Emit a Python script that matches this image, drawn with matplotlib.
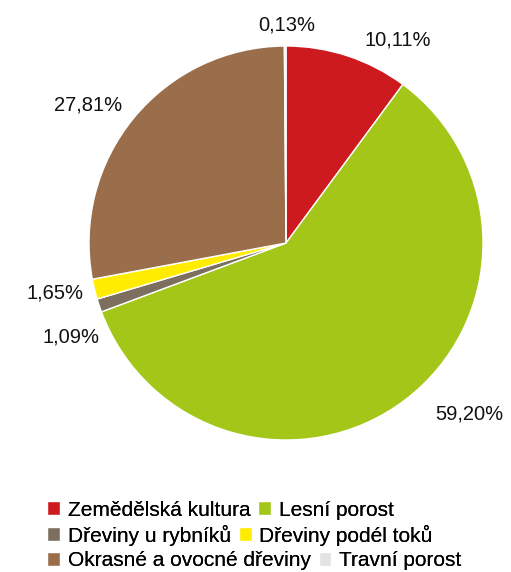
import matplotlib.pyplot as plt

plt.rcParams['font.family'] = ['Liberation Sans', 'DejaVu Sans']

# data
categories = ["Zemědělská kultura", "Lesní porost", "Dřeviny u rybníků",
              "Dřeviny podél toků", "Okrasné a ovocné dřeviny", "Travní porost"]
shares = [10.11, 59.20, 1.09, 1.65, 27.81, 0.13]
value_labels = ["10,11%", "59,20%", "1,09%", "1,65%", "27,81%", "0,13%"]
colors = ["#CD1A1F", "#A3C618", "#7C6F60", "#FFEC00", "#9A6E4A", "#E3E3E3"]

# where the Excel-style labels sit (axes units, pie radius = 1)
label_pos = [(0.569, 1.03), (0.929, -0.868), (-1.09, -0.477),
             (-1.173, -0.254), (-1.005, 0.701), (0.005, 1.107)]

W, H = 511, 572
fig = plt.figure(figsize=(W / 100, H / 100), dpi=100)
cx, cy, r = 286, 243, 197
ax = fig.add_axes([(cx - r) / W, (H - cy - r) / H, 2 * r / W, 2 * r / H])

wedges, _ = ax.pie(shares, colors=colors, startangle=90, counterclock=False,
                   radius=1, wedgeprops=dict(edgecolor="white", linewidth=1))
ax.set_xlim(-1, 1)
ax.set_ylim(-1, 1)
ax.axis("off")

for txt, (x, y) in zip(value_labels, label_pos):
    ax.text(x, y, txt, ha="center", va="center", fontsize=14.5, color="#111111",
            clip_on=False)

# legend flows like in Excel: three rows, two entries each, left aligned
rows_y = [510, 535, 561]
for i, ry in enumerate(rows_y):
    handles = wedges[2 * i:2 * i + 2]
    labels = categories[2 * i:2 * i + 2]
    leg = fig.legend(handles, labels, ncol=2, loc="center left",
                     bbox_to_anchor=(47 / W, 1 - ry / H), frameon=False,
                     fontsize=15, handlelength=0.62, handleheight=0.62,
                     handletextpad=0.37, columnspacing=0.38, borderpad=0,
                     borderaxespad=0)
    fig.add_artist(leg)

fig.savefig("out.png", dpi=100)
